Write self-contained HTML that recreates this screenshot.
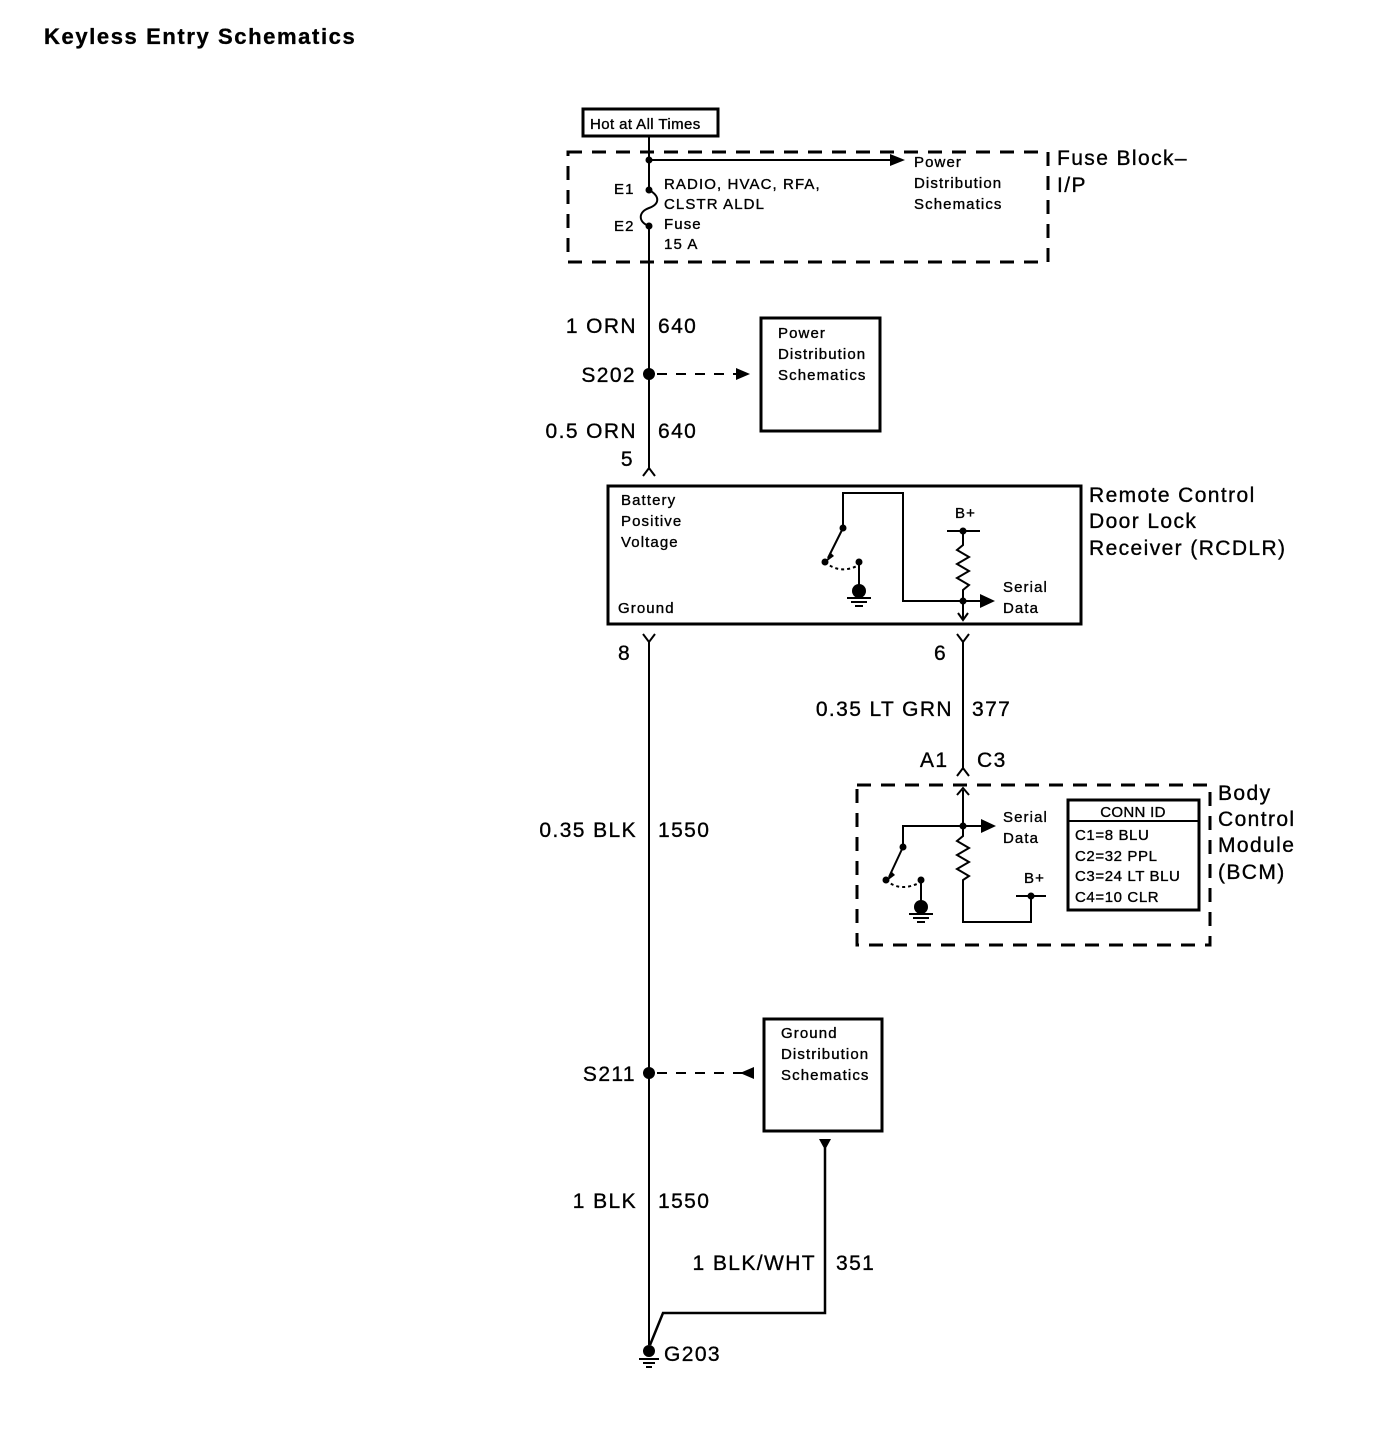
<!DOCTYPE html>
<html><head><meta charset="utf-8"><style>
html,body{margin:0;padding:0;background:#fff;}
svg{display:block;}
text{font-family:"Liberation Sans",Arial,sans-serif;fill:#000;stroke:#000;stroke-width:0.35;}
.s{font-size:15px;letter-spacing:1.1px;}
.m{font-size:21px;letter-spacing:1.4px;}
</style></head><body>
<svg width="1400" height="1456" viewBox="0 0 1400 1456" xmlns="http://www.w3.org/2000/svg">
<text x="44" y="44" font-size="22" font-weight="bold" letter-spacing="1.6" stroke-width="0">Keyless Entry Schematics</text>

<rect x="583" y="109" width="135" height="27" fill="none" stroke="#000" stroke-width="3"/>
<text x="590" y="129" class="s" style="letter-spacing:0.4px">Hot at All Times</text>

<rect x="568" y="152" width="480" height="110" fill="none" stroke="#000" stroke-width="3" stroke-dasharray="14,10"/>
<g stroke="#000" stroke-width="2" fill="none">
<line x1="649" y1="136" x2="649" y2="190"/>
<path d="M649 190 C660 196,660 204,649 208 C638 212,638 222,649 226"/>
<line x1="649" y1="226" x2="649" y2="470"/>
<line x1="649" y1="160" x2="892" y2="160"/>
</g>
<polygon points="890,154 905,160 890,166" fill="#000"/>
<circle cx="649" cy="160" r="3.5"/>
<circle cx="649" cy="190" r="3.5"/>
<circle cx="649" cy="226" r="3.5"/>
<text x="614" y="194" class="s">E1</text>
<text x="614" y="231" class="s">E2</text>
<text x="664" y="189" class="s">RADIO, HVAC, RFA,</text>
<text x="664" y="209" class="s">CLSTR ALDL</text>
<text x="664" y="229" class="s">Fuse</text>
<text x="664" y="249" class="s">15 A</text>
<text x="914" y="167" class="s">Power</text>
<text x="914" y="188" class="s">Distribution</text>
<text x="914" y="209" class="s">Schematics</text>
<text x="1057" y="165" class="m">Fuse Block–</text>
<text x="1057" y="192" class="m">I/P</text>

<text x="637" y="333" class="m" text-anchor="end">1 ORN</text>
<text x="658" y="333" class="m">640</text>
<circle cx="649" cy="374" r="6"/>
<text x="636" y="382" class="m" text-anchor="end">S202</text>
<line x1="657" y1="374" x2="740" y2="374" stroke="#000" stroke-width="2" stroke-dasharray="10,9"/>
<polygon points="736,368 750,374 736,380" fill="#000"/>
<rect x="761" y="318" width="119" height="113" fill="none" stroke="#000" stroke-width="3"/>
<text x="778" y="338" class="s">Power</text>
<text x="778" y="359" class="s">Distribution</text>
<text x="778" y="380" class="s">Schematics</text>
<text x="637" y="438" class="m" text-anchor="end">0.5 ORN</text>
<text x="658" y="438" class="m">640</text>
<text x="634" y="466" class="m" text-anchor="end">5</text>
<path d="M643 476 L649 468 L655 476" stroke="#000" stroke-width="2" fill="none"/>

<rect x="608" y="486" width="473" height="138" fill="none" stroke="#000" stroke-width="3"/>
<text x="621" y="505" class="s">Battery</text>
<text x="621" y="526" class="s">Positive</text>
<text x="621" y="547" class="s">Voltage</text>
<text x="618" y="613" class="s">Ground</text>
<g stroke="#000" stroke-width="2" fill="none">
<path d="M843 528 L843 493 L903 493 L903 601 L990 601"/>
<line x1="843" y1="528" x2="828" y2="558"/>
<path d="M825 562 Q840 575 859 565" stroke-dasharray="3,3"/>
<line x1="859" y1="562" x2="859" y2="590"/>
<line x1="847" y1="598" x2="871" y2="598"/>
<line x1="851" y1="602" x2="867" y2="602"/>
<line x1="855" y1="606" x2="863" y2="606"/>
<line x1="947" y1="531" x2="980" y2="531"/>
<path d="M963 531 L963 545 L957 550 L969 557 L957 564 L969 571 L957 578 L969 585 L963 590 L963 620"/>
<path d="M958 613 L963 620 L968 613"/>
</g>
<polygon points="830,552 826,562 834,556" fill="#000"/>
<circle cx="843" cy="528" r="3.5"/>
<circle cx="825" cy="562" r="3.5"/>
<circle cx="859" cy="562" r="3.5"/>
<circle cx="859" cy="591" r="7"/>
<circle cx="963" cy="531" r="3.5"/>
<circle cx="963" cy="601" r="3.5"/>
<polygon points="980,594 995,601 980,608" fill="#000"/>
<text x="955" y="518" class="s">B+</text>
<text x="1003" y="592" class="s">Serial</text>
<text x="1003" y="613" class="s">Data</text>
<text x="1089" y="502" class="m">Remote Control</text>
<text x="1089" y="528" class="m">Door Lock</text>
<text x="1089" y="555" class="m">Receiver (RCDLR)</text>

<g stroke="#000" stroke-width="2" fill="none">
<path d="M643 634 L649 642 L655 634"/><line x1="649" y1="642" x2="649" y2="1345"/>
<path d="M957 634 L963 642 L969 634"/><line x1="963" y1="642" x2="963" y2="770"/>
<path d="M957 776 L963 768 L969 776"/>
</g>
<text x="618" y="660" class="m">8</text>
<text x="934" y="660" class="m">6</text>
<text x="953" y="716" class="m" text-anchor="end">0.35 LT GRN</text>
<text x="972" y="716" class="m">377</text>
<text x="920" y="767" class="m">A1</text>
<text x="977" y="767" class="m">C3</text>

<rect x="857" y="785" width="353" height="160" fill="none" stroke="#000" stroke-width="3" stroke-dasharray="14,10"/>
<g stroke="#000" stroke-width="2" fill="none">
<line x1="963" y1="790" x2="963" y2="836"/>
<path d="M957 795 L963 788 L969 795"/>
<path d="M903 847 L903 826 L983 826"/>
<path d="M963 826 L963 836 L957 841 L969 848 L957 855 L969 862 L957 869 L969 876 L963 880 L963 922 L1031 922 L1031 896"/>
<line x1="1016" y1="896" x2="1046" y2="896"/>
<line x1="903" y1="847" x2="889" y2="877"/>
<path d="M886 880 Q900 893 921 882" stroke-dasharray="3,3"/>
<line x1="921" y1="880" x2="921" y2="906"/>
<line x1="909" y1="914" x2="933" y2="914"/>
<line x1="913" y1="918" x2="929" y2="918"/>
<line x1="917" y1="922" x2="925" y2="922"/>
</g>
<polygon points="891,871 887,881 895,875" fill="#000"/>
<circle cx="963" cy="826" r="3.5"/>
<circle cx="903" cy="847" r="3.5"/>
<circle cx="886" cy="880" r="3.5"/>
<circle cx="921" cy="880" r="3.5"/>
<circle cx="921" cy="907" r="7"/>
<circle cx="1031" cy="896" r="3.5"/>
<polygon points="981,819 996,826 981,833" fill="#000"/>
<text x="1003" y="822" class="s">Serial</text>
<text x="1003" y="843" class="s">Data</text>
<text x="1024" y="883" class="s">B+</text>
<rect x="1068" y="800" width="131" height="110" fill="none" stroke="#000" stroke-width="3"/>
<line x1="1068" y1="821" x2="1199" y2="821" stroke="#000" stroke-width="2"/>
<text x="1133" y="817" class="s" text-anchor="middle" style="letter-spacing:0.3px">CONN ID</text>
<text x="1075" y="840" class="s" style="letter-spacing:0.6px">C1=8 BLU</text>
<text x="1075" y="861" class="s" style="letter-spacing:0.6px">C2=32 PPL</text>
<text x="1075" y="881" class="s" style="letter-spacing:0.6px">C3=24 LT BLU</text>
<text x="1075" y="902" class="s" style="letter-spacing:0.6px">C4=10 CLR</text>
<text x="1218" y="800" class="m">Body</text>
<text x="1218" y="826" class="m">Control</text>
<text x="1218" y="852" class="m">Module</text>
<text x="1218" y="879" class="m">(BCM)</text>

<text x="637" y="837" class="m" text-anchor="end">0.35 BLK</text>
<text x="658" y="837" class="m">1550</text>

<circle cx="649" cy="1073" r="6"/>
<text x="636" y="1081" class="m" text-anchor="end">S211</text>
<line x1="657" y1="1073" x2="745" y2="1073" stroke="#000" stroke-width="2" stroke-dasharray="10,9"/>
<polygon points="754,1067 740,1073 754,1079" fill="#000"/>
<rect x="764" y="1019" width="118" height="112" fill="none" stroke="#000" stroke-width="3"/>
<text x="781" y="1038" class="s">Ground</text>
<text x="781" y="1059" class="s">Distribution</text>
<text x="781" y="1080" class="s">Schematics</text>
<polygon points="819,1139 831,1139 825,1150" fill="#000"/>
<path d="M825 1148 L825 1313 L663 1313 L650 1345" stroke="#000" stroke-width="2.5" fill="none"/>
<text x="637" y="1208" class="m" text-anchor="end">1 BLK</text>
<text x="658" y="1208" class="m">1550</text>
<text x="816" y="1270" class="m" text-anchor="end">1 BLK/WHT</text>
<text x="836" y="1270" class="m">351</text>
<circle cx="649" cy="1351" r="6"/>
<g stroke="#000" stroke-width="2">
<line x1="639" y1="1359" x2="659" y2="1359"/>
<line x1="643" y1="1363" x2="655" y2="1363"/>
<line x1="646" y1="1367" x2="652" y2="1367"/>
</g>
<text x="664" y="1361" class="m">G203</text>
</svg>
</body></html>
